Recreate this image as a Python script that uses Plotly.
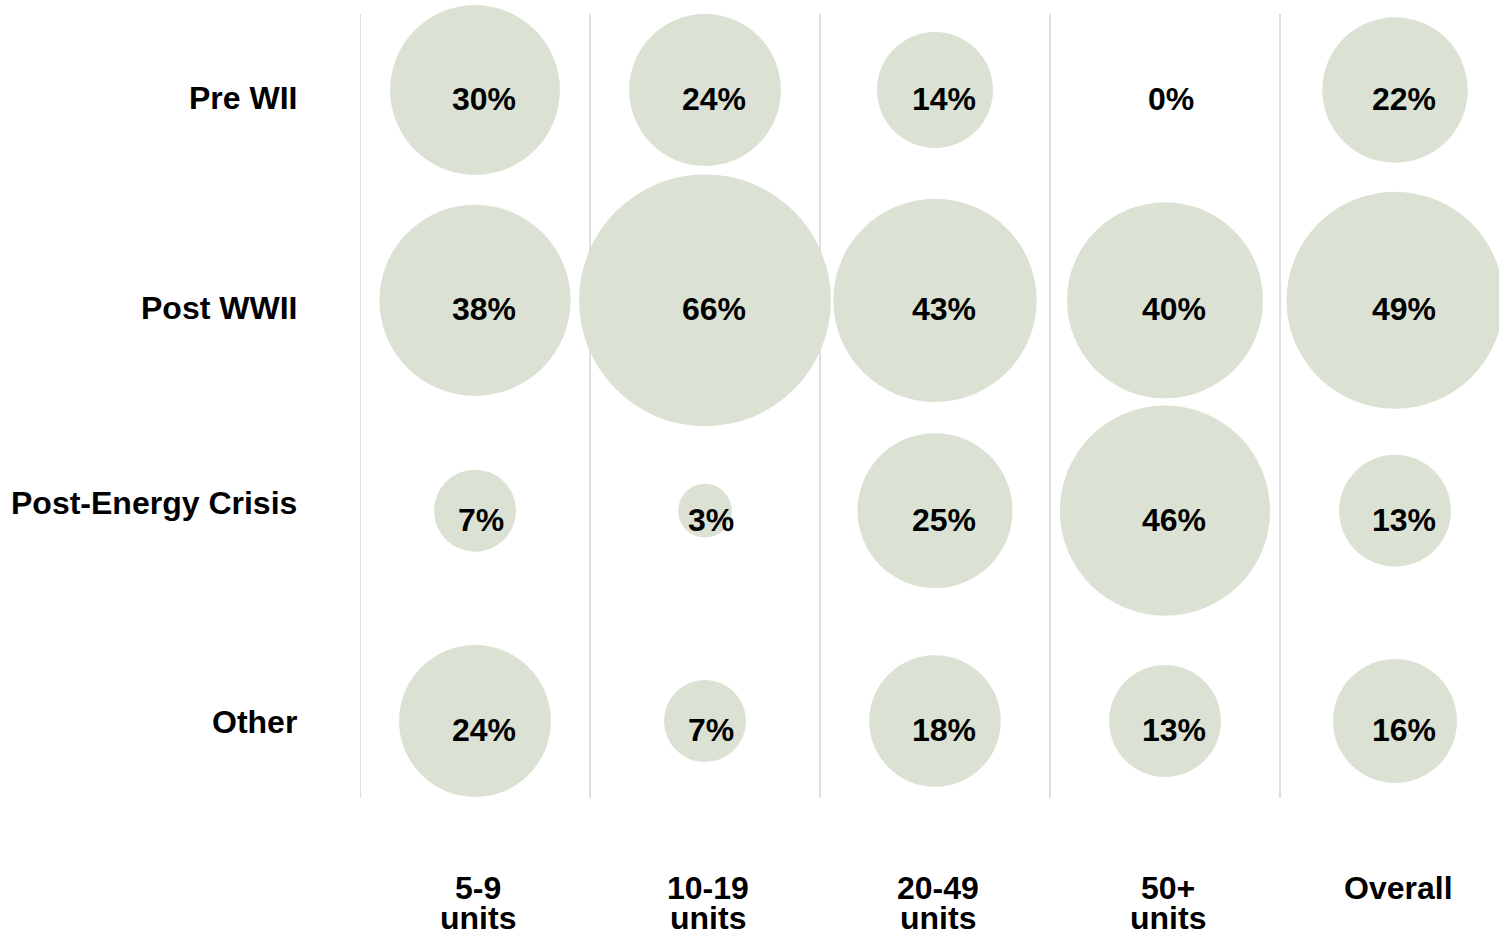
import numpy as np
import plotly.graph_objects as go

# Share of buildings by construction era, per building size class
eras = ["Pre WII", "Post WWII", "Post-Energy Crisis", "Other"]
size_classes = ["5-9 units", "10-19 units", "20-49 units", "50+ units", "Overall"]
class_lines = [["5-9", "units"], ["10-19", "units"], ["20-49", "units"], ["50+", "units"], ["Overall"]]

pre_wii = [30, 24, 14, 0, 22]
post_wwii = [38, 66, 43, 40, 49]
post_energy_crisis = [7, 3, 25, 46, 13]
other = [24, 7, 18, 13, 16]
shares = [pre_wii, post_wwii, post_energy_crisis, other]

BUBBLE = "#dbe2d4"
GRID = "#bfbfbf"
FONT = "Liberation Sans, Arial, sans-serif"
FS = 32

# vertical nudge (px) for each era label
era_label_shift = [-8, -8, 8, -1]

xs, ys, vals = [], [], []
for r, row in enumerate(shares):
    for c, v in enumerate(row):
        xs.append(c)
        ys.append(r)
        vals.append(v)

fig = go.Figure()
fig.add_trace(go.Scatter(
    x=xs, y=ys, mode="markers",
    marker=dict(size=vals, sizemode="area", sizeref=2 / 961, color=BUBBLE,
                line=dict(width=0), opacity=1),
    cliponaxis=False, hoverinfo="skip", showlegend=False,
))

annotations = []
for x, y, v in zip(xs, ys, vals):
    label = f"{v}%"
    annotations.append(dict(
        x=x, y=y, xref="x", yref="y", text=label, showarrow=False,
        xshift=9 if len(label) > 2 else 6, yshift=-9,
        font=dict(family=FONT, size=FS, color="#000", weight="bold"),
    ))

for r, name in enumerate(eras):
    annotations.append(dict(
        x=0, y=r, xref="paper", yref="y", text=name, showarrow=False,
        xanchor="right", xshift=-61, yshift=era_label_shift[r],
        font=dict(family=FONT, size=FS, color="#000", weight="bold"),
    ))

for c, lines in enumerate(class_lines):
    for i, line in enumerate(lines):
        annotations.append(dict(
            x=c, y=0, xref="x", yref="paper", text=line, showarrow=False,
            xshift=3, yanchor="middle", yshift=-90 - 30 * i,
            font=dict(family=FONT, size=FS, color="#000", weight="bold"),
        ))

shapes = [
    dict(type="line", xref="x", yref="paper", x0=c - 0.5, x1=c - 0.5, y0=0, y1=1,
         line=dict(color=GRID, width=1), layer="below")
    for c in range(len(size_classes))
]

fig.update_layout(
    width=1499, height=936,
    margin=dict(l=360, r=0, t=14, b=138),
    paper_bgcolor="white", plot_bgcolor="white",
    xaxis=dict(range=[-0.5, -0.5 + 1139 / 230], visible=False, fixedrange=True),
    yaxis=dict(range=[3 + 77 / 210.33, -76 / 210.33], visible=False, fixedrange=True),
    annotations=annotations, shapes=shapes,
    font=dict(family=FONT),
)

fig.write_html("out.html")
